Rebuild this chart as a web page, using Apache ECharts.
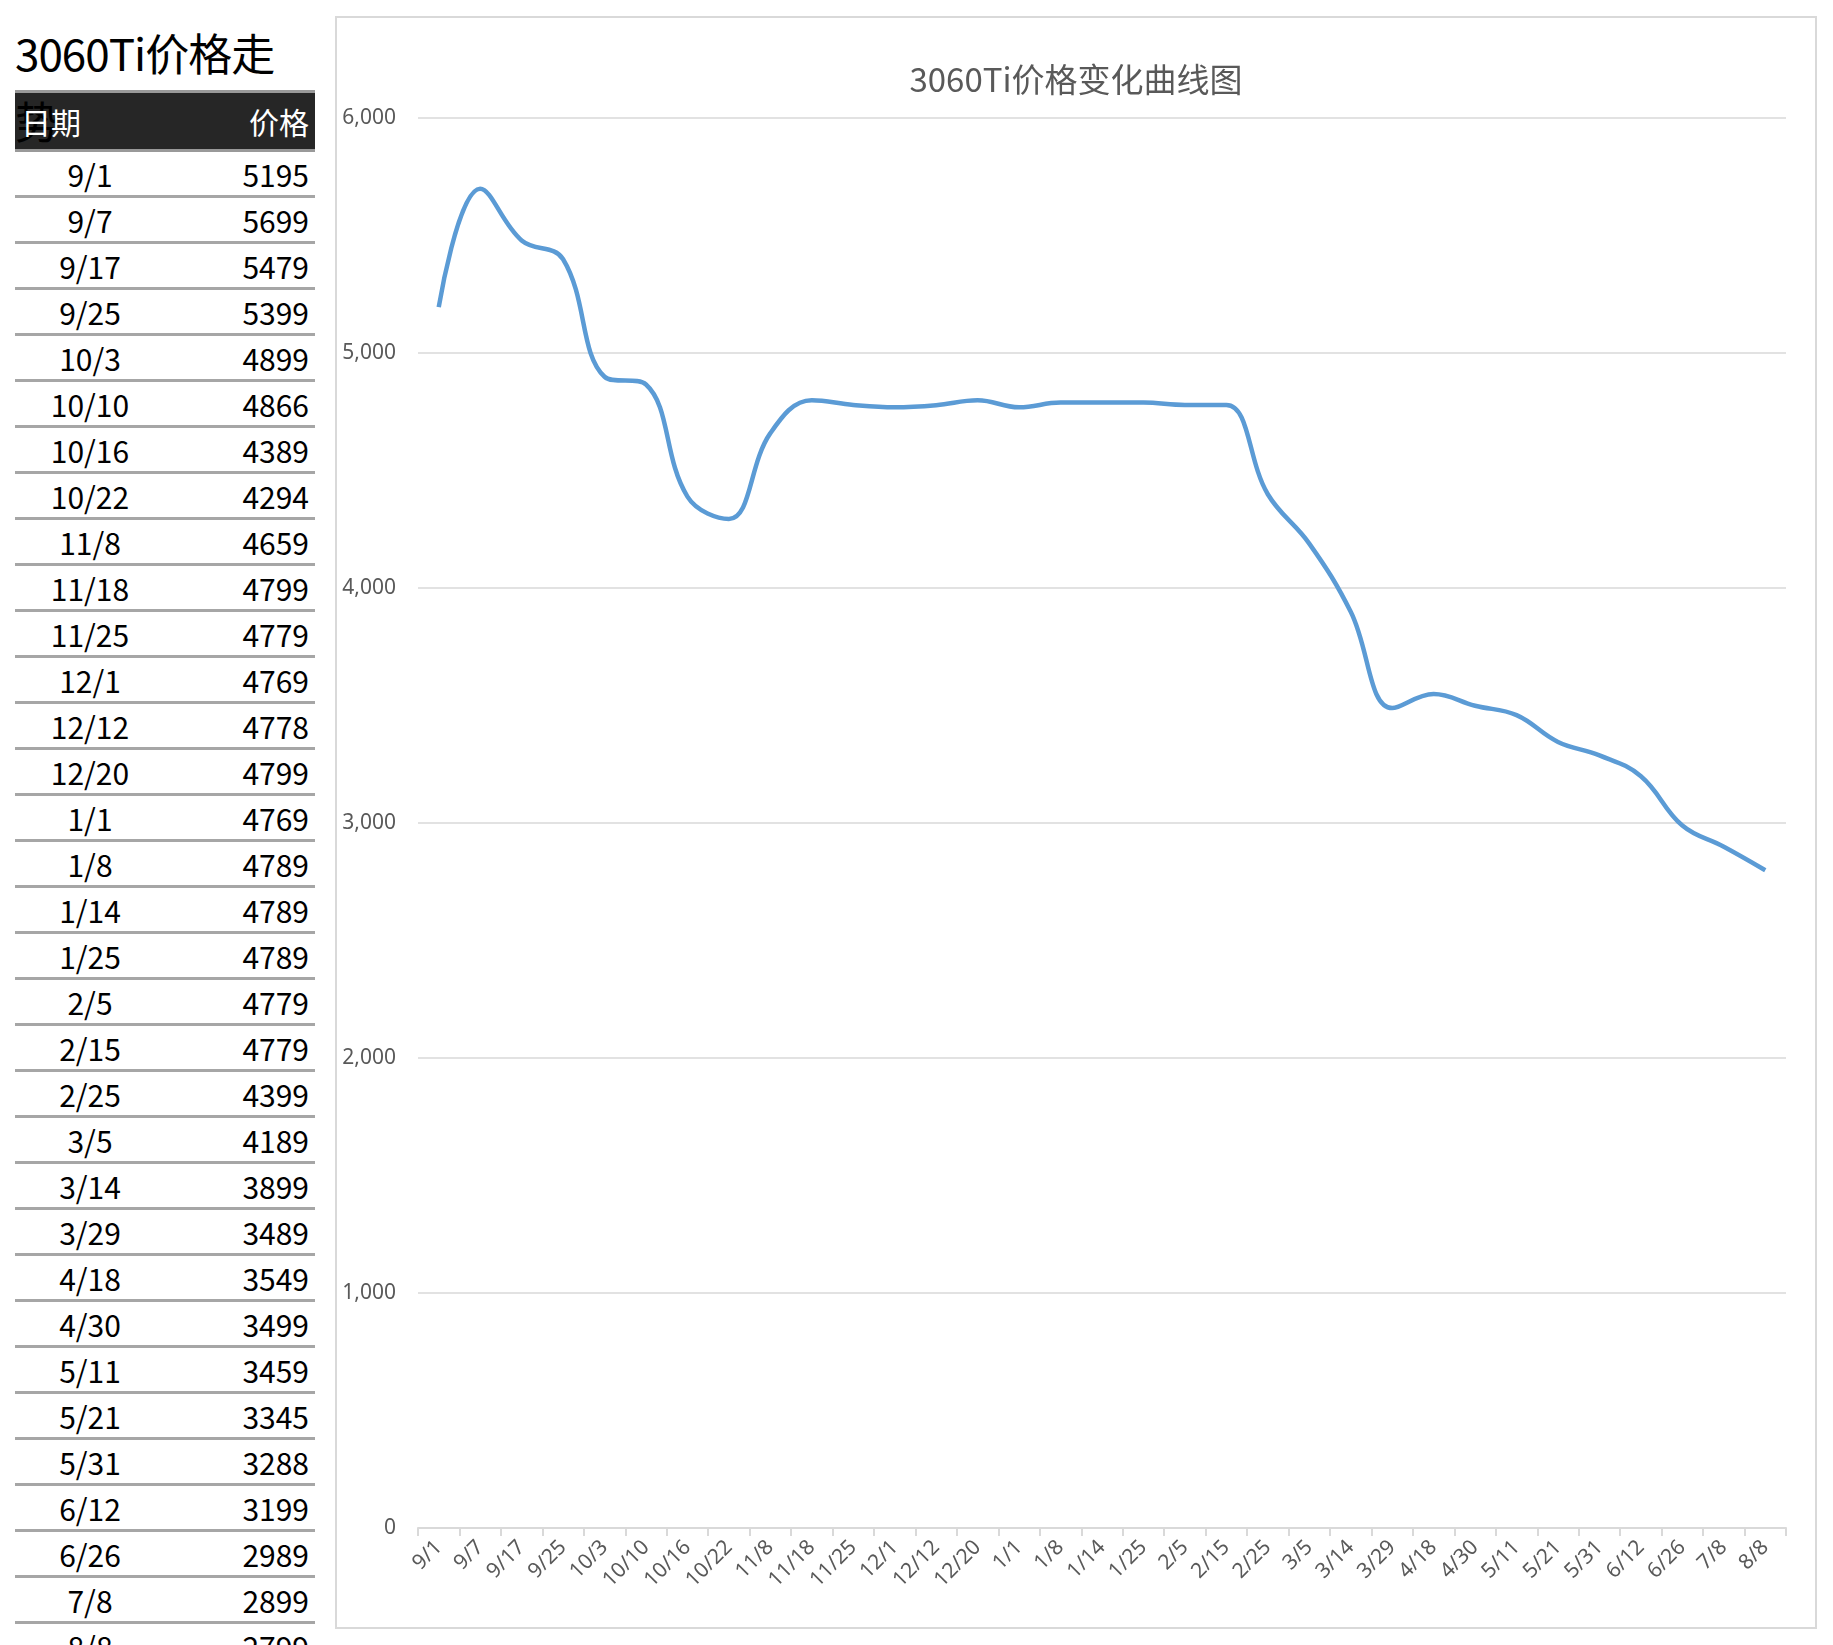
<!DOCTYPE html>
<html>
<head>
<meta charset="utf-8">
<script src="https://cdn.jsdelivr.net/npm/echarts@6/dist/echarts.min.js"></script>
<style>
    body { margin: 0; background: #fff; font-family: "Noto Sans CJK SC", "Noto Sans", sans-serif; }
    .side { position: absolute; left: 15px; top: 18px; width: 300px; }
    .side h1 { margin: 0; height: 72px; font-size: 44px; font-weight: normal; line-height: 68px; color: #000; letter-spacing: -1px; }
    .side table { width: 300px; border-collapse: collapse; font-size: 30px; }
    .side th { background: #262626; color: #fff; font-weight: normal; height: 56px; padding: 0 6px; border-top: 3px solid #999; border-bottom: 3px solid #999; }
    .side td { height: 43px; padding: 0 6px; border-bottom: 3px solid #a6a6a6; line-height: 40px; }
    .chartBox { position: absolute; left: 335px; top: 16px; width: 1482px; height: 1613px; border: 2px solid #d9d9d9; box-sizing: border-box; }
</style>
</head>
<body>
<div class="side">
    <h1>3060Ti价格走势</h1>
    <table id="tb">
        <tr><th style="text-align:left">日期</th><th style="text-align:right">价格</th></tr>
    </table>
</div>
<div class="chartBox"></div>
<script>
// 数据
var dates = ['9/1', '9/7', '9/17', '9/25', '10/3', '10/10', '10/16', '10/22', '11/8', '11/18', '11/25', '12/1', '12/12', '12/20', '1/1', '1/8', '1/14', '1/25', '2/5', '2/15', '2/25', '3/5', '3/14', '3/29', '4/18', '4/30', '5/11', '5/21', '5/31', '6/12', '6/26', '7/8', '8/8'];
var prices = [5195, 5699, 5479, 5399, 4899, 4866, 4389, 4294, 4659, 4799, 4779, 4769, 4778, 4799, 4769, 4789, 4789, 4789, 4779, 4779, 4399, 4189, 3899, 3489, 3549, 3499, 3459, 3345, 3288, 3199, 2989, 2899, 2799];

// 左侧表格
(function () {
    var tb = document.getElementById('tb');
    dates.forEach(function (d, i) {
        var tr = document.createElement('tr');
        tr.innerHTML = '<td style="text-align:center;width:50%">' + d + '</td><td style="text-align:right">' + prices[i] + '</td>';
        tb.appendChild(tr);
    });
})();

// 价格曲线
(function () {
    let myechart = echarts.init(document.querySelector('.chartBox'));
    var option = {
        textStyle: { fontFamily: 'Noto Sans' },
        title: {
            text: '3060Ti价格变化曲线图',
            left: 'center',
            top: 40,
            textStyle: { fontSize: 33, fontWeight: 'normal', color: '#595959', fontFamily: 'Noto Sans CJK SC' }
        },
        grid: { left: 81, right: 29, top: 100, bottom: 99 },
        xAxis: {
            type: 'category',
            data: dates,
            boundaryGap: true,
            axisLine: { lineStyle: { color: '#d9d9d9', width: 2 } },
            axisTick: { show: true, length: 8, lineStyle: { color: '#d9d9d9', width: 2 } },
            axisLabel: { rotate: 45, interval: 0, color: '#595959', fontSize: 21, margin: 16 }
        },
        yAxis: {
            type: 'value',
            min: 0,
            max: 6000,
            interval: 1000,
            axisLabel: { color: '#595959', fontSize: 21, margin: 22, formatter: '{value}' },
            splitLine: { lineStyle: { color: '#d9d9d9', width: 1.5 } }
        },
        series: [
            {
                type: 'line',
                data: prices,
                smooth: 0.4,
                symbol: 'circle',
                symbolSize: 1,
                showSymbol: true,
                itemStyle: { opacity: 0 },
                lineStyle: { color: '#5b9bd5', width: 4.5 },
                label: {
                    show: true,
                    position: 'bottom',
                    distance: 14,
                    color: '#404040',
                    fontSize: 20
                }
            }
        ]
    };
    myechart.setOption(option);
})();
</script>
</body>
</html>
